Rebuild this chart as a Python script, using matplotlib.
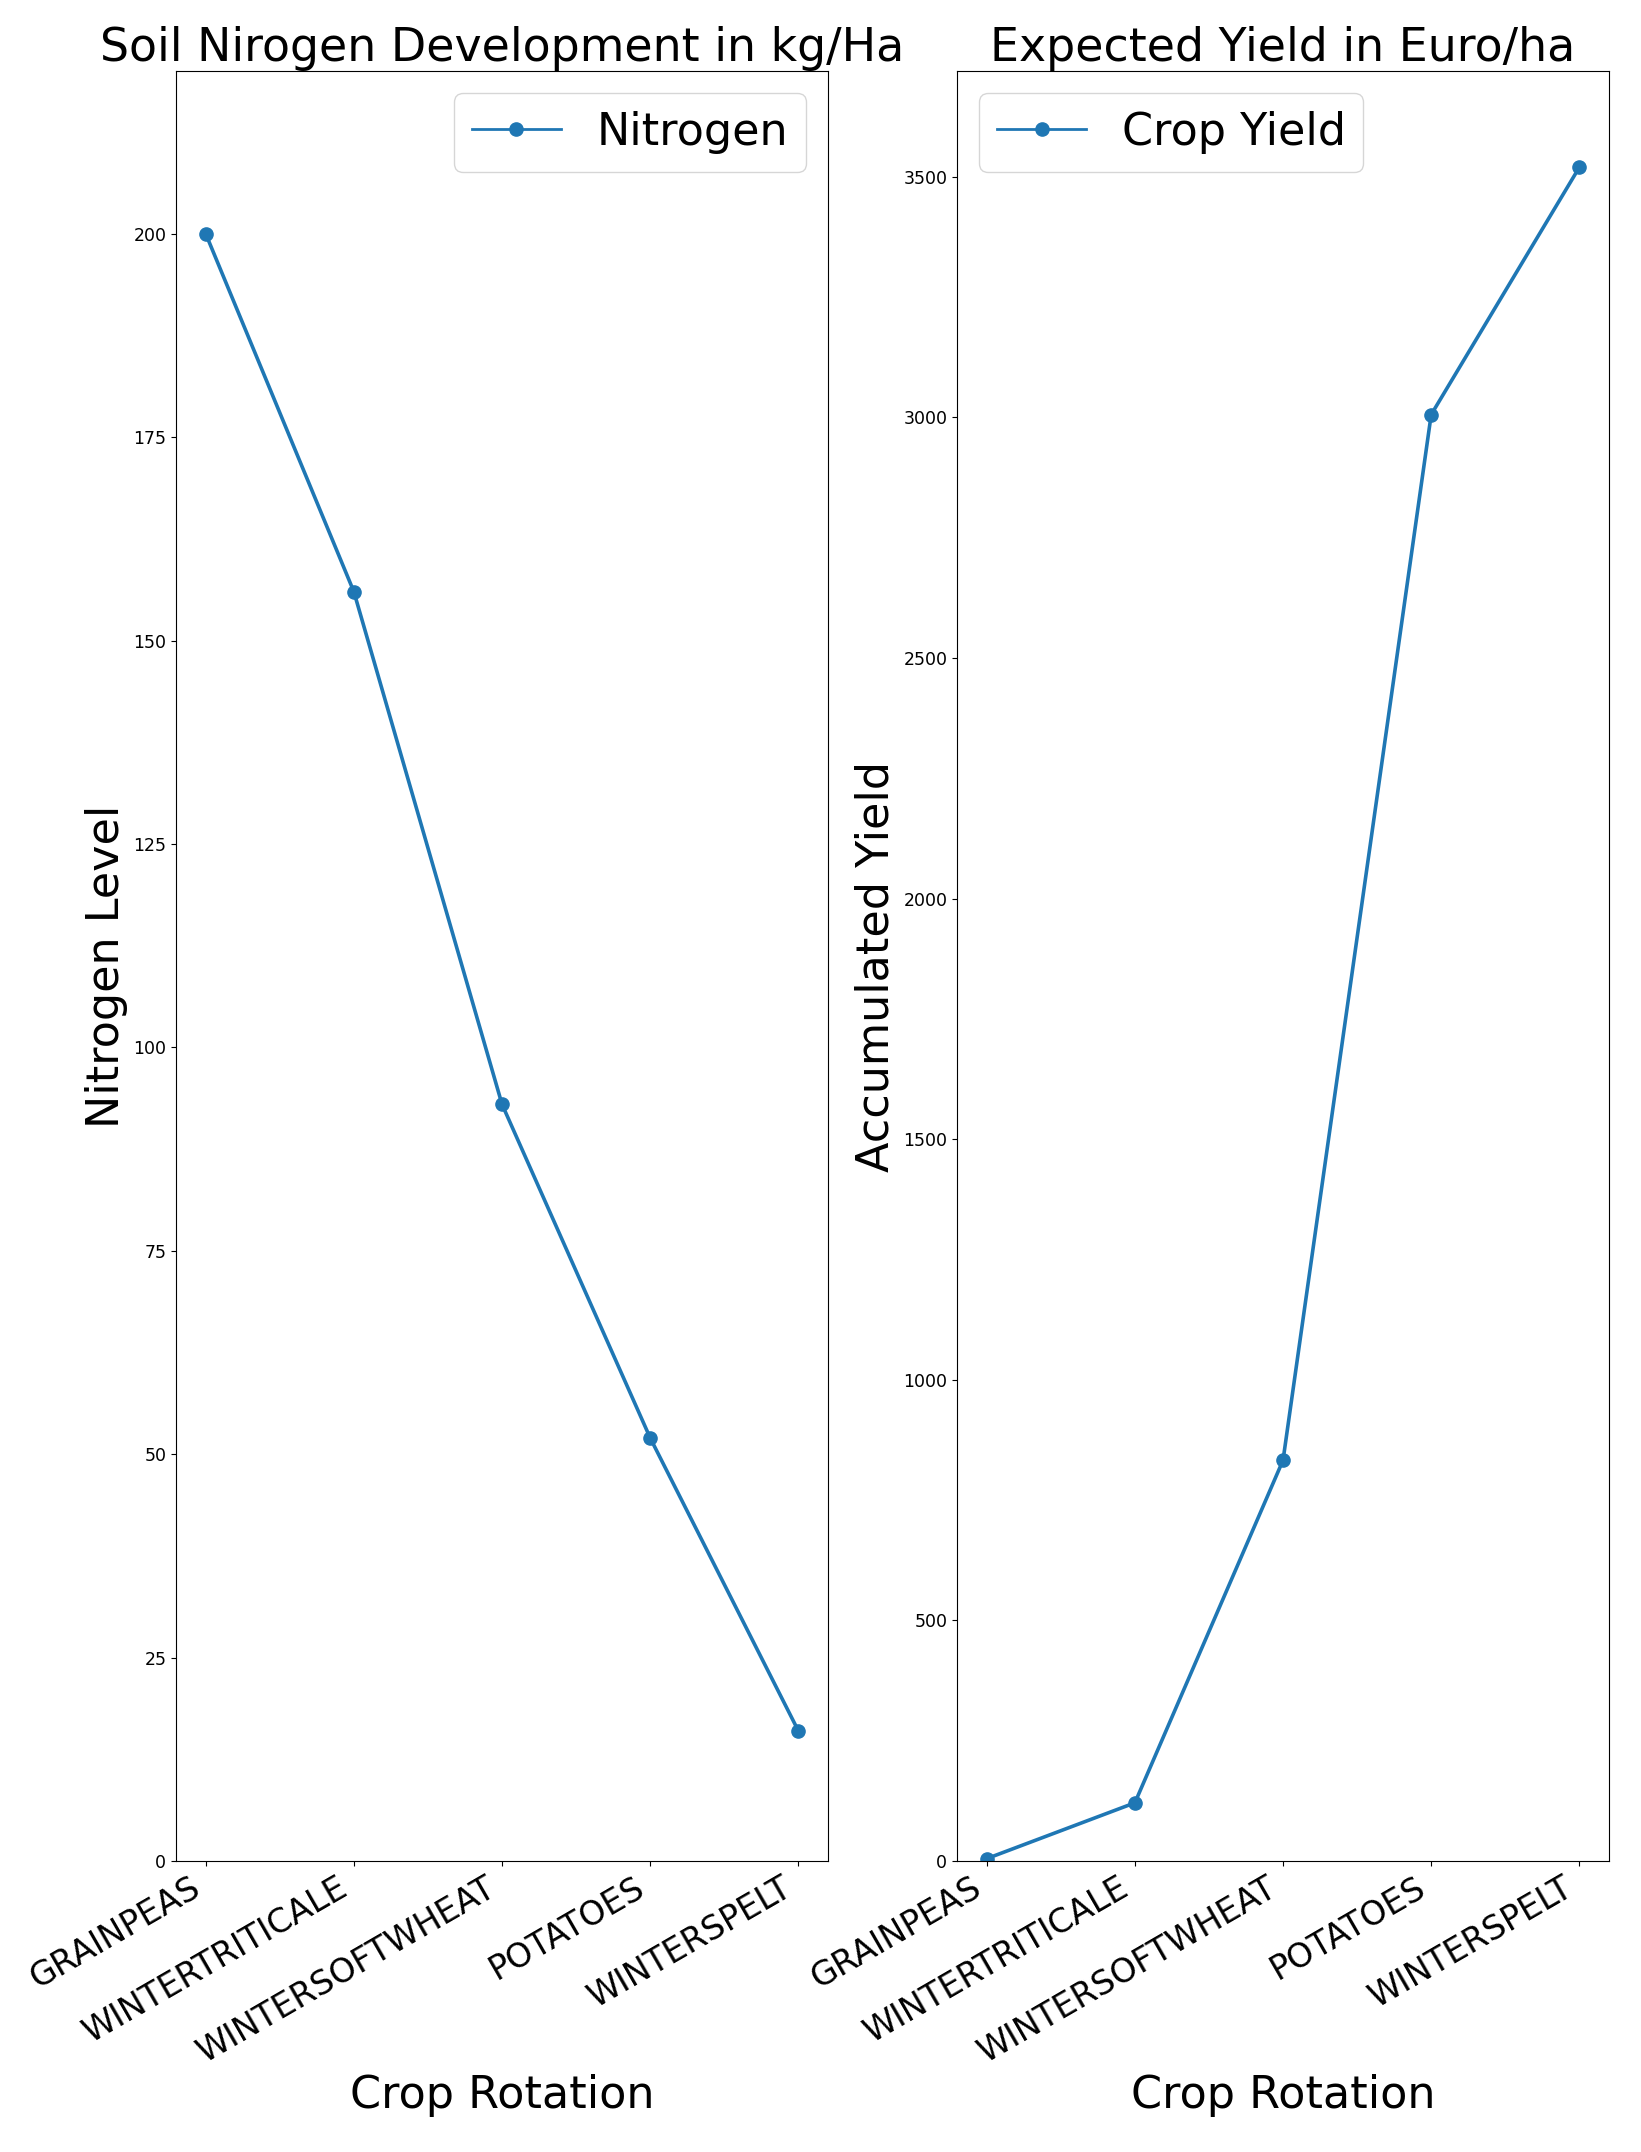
import matplotlib

matplotlib.use("Agg")
import matplotlib.pyplot as plt

# crop rotation sequence shared by both panels
crops = ["GRAINPEAS", "WINTERTRITICALE", "WINTERSOFTWHEAT", "POTATOES", "WINTERSPELT"]

# soil nitrogen (kg/ha) after each crop
nitrogen = [200, 156, 93, 52, 16]

# accumulated expected yield (Euro/ha)
crop_yield = [5, 121, 833, 3006, 3520]

nitrogen_ticks = [0, 25, 50, 75, 100, 125, 150, 175, 200]
yield_ticks = [0, 500, 1000, 1500, 2000, 2500, 3000, 3500]

COLOR = "#1f77b4"


def draw_panel(ax, values, label, title, ylabel, yticks, ylim, legend_loc):
    ax.plot(crops, values, "o-", color=COLOR, linewidth=2.6, markersize=9.5, label=label)
    ax.set_title(title, fontsize=33)
    ax.set_xlabel("Crop Rotation", fontsize=32)
    ax.set_ylabel(ylabel, fontsize=32)
    ax.set_yticks(yticks)
    ax.set_ylim(*ylim)
    ax.tick_params(axis="y", labelsize=12.5)
    ax.tick_params(axis="x", labelsize=24)
    plt.setp(ax.get_xticklabels(), rotation=30, ha="right", rotation_mode="default")
    leg = ax.legend(loc=legend_loc, fontsize=32)
    leg.get_lines()[0].set_linewidth(2.0)


fig, (ax_n, ax_y) = plt.subplots(1, 2, figsize=(16.41, 21.52), dpi=100)
fig.subplots_adjust(left=0.1073, right=0.9805, top=0.967, bottom=0.1352, wspace=0.198)

draw_panel(ax_n, nitrogen, "Nitrogen", "Soil Nirogen Development in kg/Ha",
           "Nitrogen Level", nitrogen_ticks, (0, 220), "upper right")
draw_panel(ax_y, crop_yield, "Crop Yield", "Expected Yield in Euro/ha",
           "Accumulated Yield", yield_ticks, (0, 3720), "upper left")

fig.savefig("out.png", dpi=100)
plt.close(fig)
